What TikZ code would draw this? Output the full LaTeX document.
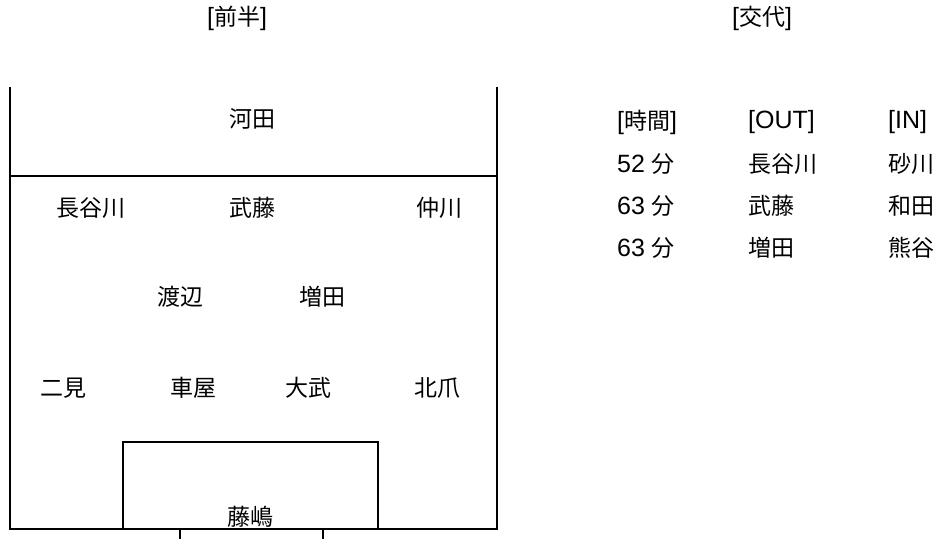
\documentclass[tikz,border=0pt]{standalone}
\usepackage{fontspec}
\setmainfont{Liberation Sans}
\newfontfamily\cjk{Noto Sans CJK JP}
\newcommand{\J}[1]{{\cjk\fontsize{23}{23}\selectfont #1}}
\begin{document}
\begin{tikzpicture}[x=1pt,y=-1pt,
  field/.style={line width=1.6pt, line join=miter},
  jp/.style={inner sep=0pt, font=\cjk\fontsize{23}{23}\selectfont},
  mix/.style={inner sep=0pt, font=\fontsize{25}{25}\selectfont},
  cell/.style={mix, anchor=west}]
\useasboundingbox (0,0) rectangle (938,539);
% field
\draw[field] (10,87) |- (497,529) -- (497,87);
\draw[field] (10,176) -- (497,176);
\draw[field] (123,529) |- (378,442) -- (378,529);
\draw[field] (180,529) -- (180,539);
\draw[field] (323,529) -- (323,539);
% titles
\node[mix] (t1) at (237,18) {[\J{前半}]};
\node[mix] (t2) at (762,18) {[\J{交代}]};
% players
\node[jp] (p1) at (252,119) {河田};
\node[jp] (p2) at (91,208) {長谷川};
\node[jp] (p3) at (252,208) {武藤};
\node[jp] (p4) at (439,208) {仲川};
\node[jp] (p5) at (180,297) {渡辺};
\node[jp] (p6) at (322,297) {増田};
\node[jp] (p7) at (64,388) {二見};
\node[jp] (p8) at (193,388) {車屋};
\node[jp] (p9) at (308,388) {大武};
\node[jp] (p10) at (437,388) {北爪};
\node[jp] (p11) at (250,517) {藤嶋};
% substitutions
\node[cell] (h1) at (617,122) {[\J{時間}]};
\node[cell] (h2) at (748,122) {[OUT]};
\node[cell] (h3) at (888,122) {[IN]};
\node[cell] (a1) at (617,164) {52 \J{分}};
\node[cell] (a2) at (748,164) {\J{長谷川}};
\node[cell] (a3) at (888,164) {\J{砂川}};
\node[cell] (b1) at (617,206) {63 \J{分}};
\node[cell] (b2) at (748,206) {\J{武藤}};
\node[cell] (b3) at (888,206) {\J{和田}};
\node[cell] (c1) at (617,248) {63 \J{分}};
\node[cell] (c2) at (748,248) {\J{増田}};
\node[cell] (c3) at (888,248) {\J{熊谷}};
\end{tikzpicture}
\end{document}
